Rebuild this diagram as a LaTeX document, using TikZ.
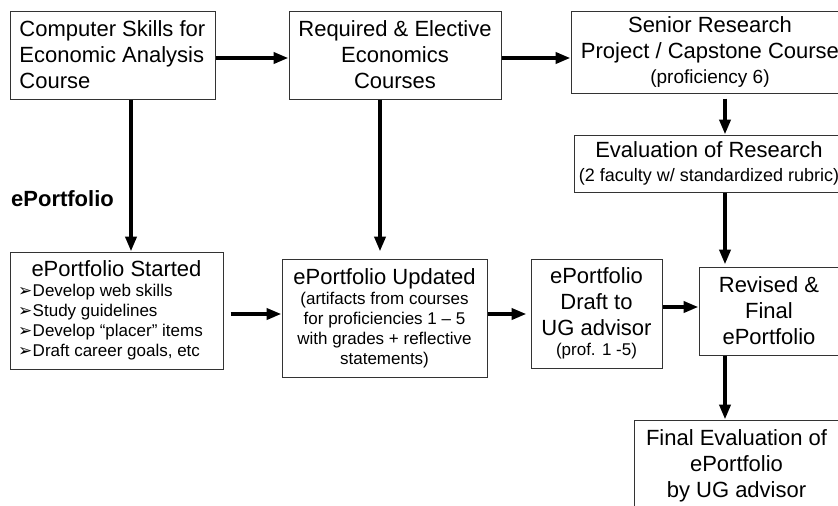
\documentclass[tikz,border=0pt]{standalone}
\usepackage{fontspec}
\setmainfont{Liberation Sans}
\newfontfamily\dejavu{DejaVu Sans}
\usetikzlibrary{arrows.meta}
\newcommand\bigf{\fontsize{22}{26}\selectfont}
\newcommand\smallf{\fontsize{17}{20}\selectfont}
\newcommand\bul{\hspace*{6pt}{\dejavu\fontsize{17}{20}\selectfont ➢}\hspace{0.5pt}}
\begin{document}
\begin{tikzpicture}[x=1pt,y=-1pt,
  box/.style={draw=black!80, line width=1pt, inner sep=0pt, font=\bigf, align=flush center, fill=white},
  arr/.style={-{Triangle[length=15pt,width=11pt]}, line width=4pt}]
\useasboundingbox[fill=white] (0,0) rectangle (838,506);
\node[box, minimum width=205pt, minimum height=88pt, text width=189pt, align=flush left] (b1) at (112.5,55) {\hspace*{1.5pt}Computer Skills for\\\hspace*{1.5pt}Economic Analysis\\\hspace*{1.5pt}Course};
\node[box, minimum width=212pt, minimum height=88pt, text width=204pt] (b2) at (395,55) {Required \& Elective\\Economics\\Courses};
\node[box, minimum width=278pt, minimum height=82pt, text width=275pt] (b3) at (710,52) {Senior Research\\Project / Capstone Course\par{\fontsize{19}{25}\selectfont (proficiency 6)\par}};
\node[box, minimum width=270pt, minimum height=57pt, text width=266pt] (ev) at (709,163.5) {Evaluation of Research\par{\fontsize{18}{24}\selectfont (2 faculty w/ standardized rubric)\par}};
\node[box, minimum width=213pt, minimum height=117pt, text width=209pt, align=flush left] (st) at (116.5,310.5) {{\centering ePortfolio Started\par}{\smallf\raggedright\bul Develop web skills\\\bul Study guidelines\\\bul Develop “placer” items\\\bul Draft career goals, etc\par}};
\node[box, minimum width=205pt, minimum height=118pt, text width=201pt] (up) at (384.5,318) {ePortfolio Updated\par{\smallf (artifacts from courses\\for proficiencies 1 – 5\\with grades + reflective\\statements)\par}};
\node[box, minimum width=131pt, minimum height=109pt, text width=127pt] (dr) at (596.5,313.5) {ePortfolio\\Draft to\\UG advisor\par{\smallf (prof. 1 -5)\par}};
\node[box, minimum width=140pt, minimum height=88pt, text width=136pt] (rv) at (769,311) {Revised \&\\Final\\ePortfolio};
\node[box, minimum width=205pt, minimum height=92pt, text width=201pt] (fe) at (736.5,466) {Final Evaluation of\\ePortfolio\\by UG advisor};
\node[font=\bigf\bfseries, inner sep=0pt] (lbl) at (62.5,199) {ePortfolio};
\coordinate (vx) at (725,0);
\draw[arr] ([yshift=-3pt]b1.east) -- ([yshift=-3pt]b1.east -| b2.west);
\draw[arr] ([yshift=-6pt]b3.west -| b2.east) -- ([yshift=-6pt]b3.west);
\draw[arr] ([xshift=18.5pt]b1.south) -- ([xshift=18.5pt]b1.south |- st.north);
\draw[arr, shorten >=7pt] ([xshift=-15pt]b2.south) -- ([xshift=-15pt]b2.south |- up.north);
\draw[arr, shorten <=7pt] ([yshift=-3.5pt]st.east) -- ([yshift=-3.5pt]st.east -| up.west);
\draw[arr, shorten >=4pt] ([yshift=4pt]up.east) -- ([yshift=4pt]up.east -| dr.west);
\draw[arr] ([yshift=4pt]rv.west -| dr.east) -- ([yshift=4pt]rv.west);
\draw[arr, shorten <=5pt] (b3.south -| vx) -- (ev.north -| vx);
\draw[arr, shorten >=2pt] (ev.south -| vx) -- (rv.north -| vx);
\draw[arr] (rv.south -| vx) -- (fe.north -| vx);
\end{tikzpicture}
\end{document}
